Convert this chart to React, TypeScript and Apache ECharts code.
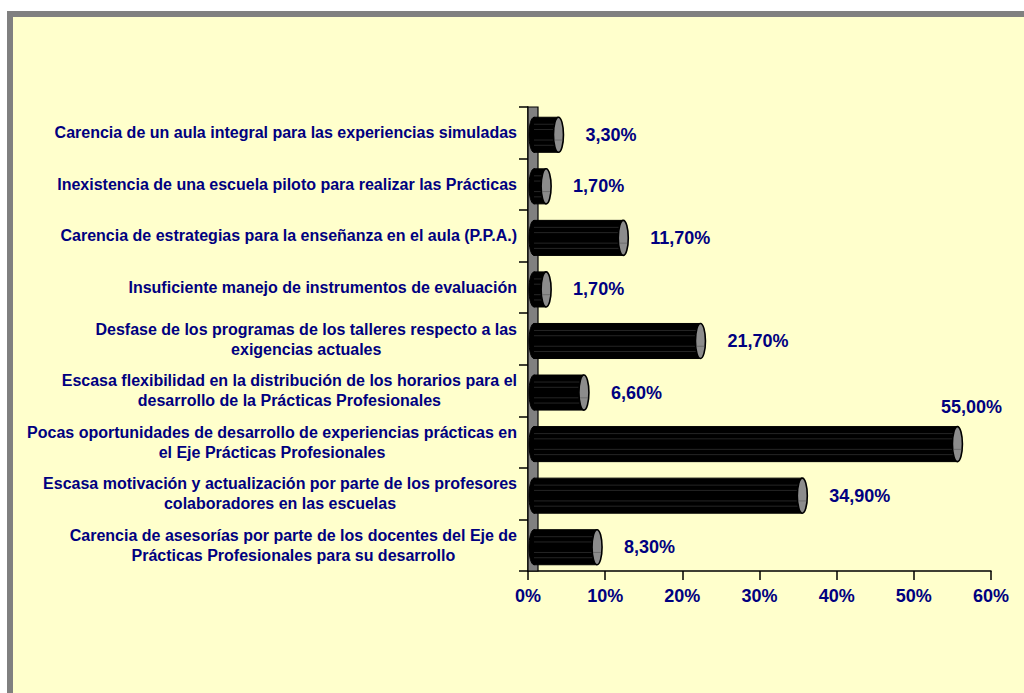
import React, { useEffect, useRef } from "react";
import * as echarts from "echarts";

const categories: string[] = [
  "Carencia de un aula integral para las experiencias simuladas",
  "Inexistencia de una escuela piloto para realizar las Prácticas",
  "Carencia de estrategias para la enseñanza en el aula (P.P.A.)",
  "Insuficiente manejo de instrumentos de evaluación",
  "Desfase de los programas de los talleres respecto a las\nexigencias actuales",
  "Escasa flexibilidad en la distribución de los horarios para el\ndesarrollo de la Prácticas Profesionales",
  "Pocas oportunidades de desarrollo de experiencias prácticas en\nel Eje Prácticas Profesionales",
  "Escasa motivación y actualización por parte de los profesores\ncolaboradores en las escuelas",
  "Carencia de asesorías por parte de los docentes del Eje de\nPrácticas Profesionales para su desarrollo",
];

const values: number[] = [3.3, 1.7, 11.7, 1.7, 21.7, 6.6, 55.0, 34.9, 8.3];

const xTicks = { min: 0, max: 60, interval: 10 };

const NAVY = "#000080";
const FONT = "Arial, 'Liberation Sans', sans-serif";

export default function App() {
  const ref = useRef<HTMLDivElement>(null);

  useEffect(() => {
    if (!ref.current) return;
    const chart = echarts.init(ref.current, undefined, { renderer: "svg" });

    const option: any = {
      animation: false,
      backgroundColor: "transparent",
      grid: { left: 528, right: 33, top: 107, bottom: 122, containLabel: false },
      xAxis: {
        type: "value",
        min: xTicks.min,
        max: xTicks.max,
        interval: xTicks.interval,
        axisLine: { show: true, lineStyle: { color: "#000", width: 1.5 } },
        axisTick: { show: true, length: 9, lineStyle: { color: "#000", width: 1.5 } },
        splitLine: { show: false },
        axisLabel: {
          formatter: (v: number) => `${v}%`,
          color: NAVY,
          fontWeight: "bold",
          fontSize: 18,
          fontFamily: FONT,
          margin: 16,
        },
      },
      yAxis: {
        type: "category",
        inverse: true,
        data: categories,
        axisLine: { show: true, lineStyle: { color: "#000", width: 1.5 } },
        axisTick: { show: true, length: 9, lineStyle: { color: "#000", width: 1.5 } },
        axisLabel: {
          margin: 11,
          align: "right",
          formatter: (s: string) =>
            s
              .split("\n")
              .map((l) => `{c|${l}}`)
              .join("\n"),
          rich: {
            c: {
              align: "center",
              color: NAVY,
              fontWeight: "bold",
              fontSize: 16,
              fontFamily: FONT,
              lineHeight: 20,
            },
          },
        },
      },
      series: [
        {
          type: "custom",
          z: 1,
          data: [[0, 0]],
          renderItem: (params: any) => {
            const cs = params.coordSys;
            return {
              type: "rect",
              shape: { x: cs.x, y: cs.y, width: 10, height: cs.height },
              style: { fill: "#808080", stroke: "#000", lineWidth: 1.2 },
            };
          },
        },
        {
          type: "custom",
          z: 3,
          encode: { x: 0, y: 1 },
          data: values.map((v, i) => [v, i]),
          renderItem: (params: any, api: any) => {
            const v = api.value(0);
            const idx = api.value(1);
            const cs = params.coordSys;
            const p0 = api.coord([0, idx]);
            const p1 = api.coord([v, idx]);
            const band = api.size([0, 1])[1];
            const h = band * 0.68;
            const cy = p0[1] + 2;
            const rx = 5;
            const x0 = p0[0] + rx + 1;
            const x1 = p1[0] + rx;
            const top = cy - h / 2;
            const children: any[] = [];
            children.push({
              type: "ellipse",
              shape: { cx: x0, cy, rx, ry: h / 2 },
              style: { fill: "#000", stroke: "#000", lineWidth: 1 },
            });
            children.push({
              type: "rect",
              shape: { x: x0, y: top, width: Math.max(0, x1 - x0), height: h },
              style: { fill: "#000", stroke: "#000", lineWidth: 1 },
            });
            [0.2, 0.35, 0.65, 0.8].forEach((f) => {
              children.push({
                type: "line",
                shape: { x1: x0, y1: top + h * f, x2: x1, y2: top + h * f },
                style: { stroke: "#2e2e2e", lineWidth: 0.8 },
              });
            });
            children.push({
              type: "ellipse",
              shape: { cx: x1, cy, rx, ry: h / 2 },
              style: { fill: "#8c8c8c", stroke: "#000", lineWidth: 1.6 },
            });
            children.push({
              type: "line",
              shape: { x1: x1 - rx + 1, y1: cy + h * 0.15, x2: x1 + rx - 1, y2: cy + h * 0.15 },
              style: { stroke: "#5a5a5a", lineWidth: 0.6 },
            });
            const label = `${v.toFixed(2).replace(".", ",")}%`;
            let tx = x1 + rx + 22;
            let ty = cy;
            let align = "left";
            if (tx + 60 > cs.x + cs.width) {
              tx = p1[0] + 19;
              ty = cy - 37;
              align = "center";
            }
            children.push({
              type: "text",
              style: {
                x: tx,
                y: ty,
                text: label,
                fill: NAVY,
                font: `bold 18px ${FONT}`,
                align,
                verticalAlign: "middle",
              },
            });
            return { type: "group", children };
          },
        },
      ],
    };

    chart.setOption(option);
    return () => chart.dispose();
  }, []);

  return (
    <div style={{ position: "fixed", left: 0, top: 0, width: 1024, height: 693, background: "#fff", overflow: "hidden" }}>
      <div
        style={{
          position: "absolute",
          left: 7,
          top: 11,
          width: 1100,
          height: 800,
          boxSizing: "border-box",
          borderLeft: "6px solid #808080",
          borderTop: "6px solid #808080",
          background: "#FFFFCC",
        }}
      />
      <div ref={ref} style={{ position: "absolute", left: 0, top: 0, width: 1024, height: 693 }} />
    </div>
  );
}
